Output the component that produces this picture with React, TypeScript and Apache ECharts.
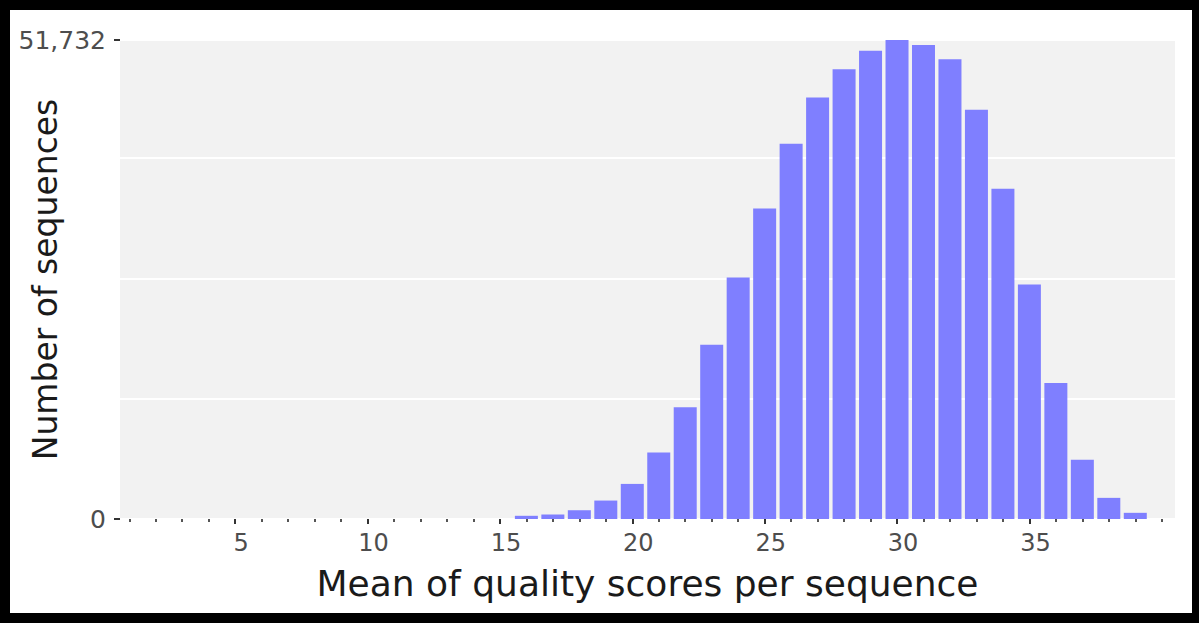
import React, { useEffect, useRef } from "react";
import * as echarts from "echarts";

// Histogram data: mean quality score (x) -> number of sequences (y)
const qualityScores = [16, 17, 18, 19, 20, 21, 22, 23, 24, 25, 26, 27, 28, 29, 30, 31, 32, 33, 34, 35, 36, 37, 38, 39];
const sequenceCounts = [345, 485, 947, 1992, 3790, 7192, 12080, 18819, 26075, 33536, 40534, 45519, 48576, 50579, 51732, 51192, 49653, 44195, 35657, 25322, 14696, 6406, 2282, 667];

const xMinorTicks = [1, 2, 3, 4, 5, 6, 7, 8, 9, 10, 11, 12, 13, 14, 15, 16, 17, 18, 19, 20, 21, 22, 23, 24, 25, 26, 27, 28, 29, 30, 31, 32, 33, 34, 35, 36, 37, 38, 39, 40];
const xMajorTicks = [5, 10, 15, 20, 25, 30, 35];
const yMax = 51732;
const yTickLabels = [0, 51732];

const FONT = "DejaVu Sans";

export default function App() {
  const ref = useRef<HTMLDivElement>(null);

  useEffect(() => {
    if (!ref.current) return;
    const chart = echarts.init(ref.current, null, { renderer: "svg" });
    chart.setOption({
      animation: false,
      backgroundColor: "#ffffff",
      grid: {
        left: 120,
        top: 40,
        right: 24,
        bottom: 104,
        show: true,
        backgroundColor: "#f2f2f2",
        borderWidth: 0,
        containLabel: false,
        outerBoundsMode: "none",
      },
      xAxis: [
        {
          type: "value",
          min: 0.65,
          max: 40.5,
          name: "Mean of quality scores per sequence",
          nameLocation: "middle",
          nameGap: 46,
          nameMoveOverlap: false,
          nameTextStyle: { fontFamily: FONT, fontSize: 36, color: "#1a1a1a" },
          axisLine: { show: false },
          splitLine: { show: false },
          axisTick: {
            show: true,
            customValues: xMinorTicks,
            length: 3,
            lineStyle: { color: "#555", width: 2 },
          },
          axisLabel: {
            show: true,
            customValues: xMajorTicks,
            fontFamily: FONT,
            fontSize: 24,
            color: "#4d4d4d",
            margin: 12,
            padding: [0, 0, 0, 12],
          },
        },
        {
          type: "value",
          min: 0.65,
          max: 40.5,
          position: "bottom",
          axisLine: { show: false },
          splitLine: { show: false },
          axisLabel: { show: false },
          axisTick: {
            show: true,
            customValues: xMajorTicks,
            length: 5,
            lineStyle: { color: "#333", width: 2 },
          },
        },
      ],
      yAxis: [
        {
          type: "value",
          min: 0,
          max: yMax,
          interval: 13000,
          axisLine: { show: false },
          axisTick: { show: false },
          axisLabel: { show: false },
          splitLine: { show: true, lineStyle: { color: "#ffffff", width: 2 } },
        },
        {
          type: "value",
          min: 0,
          max: yMax,
          position: "left",
          name: "Number of sequences",
          nameLocation: "middle",
          nameGap: 58,
          nameMoveOverlap: false,
          nameTextStyle: { fontFamily: FONT, fontSize: 33, color: "#1a1a1a" },
          axisLine: { show: false },
          splitLine: { show: false },
          axisTick: {
            show: true,
            customValues: yTickLabels,
            length: 6,
            lineStyle: { color: "#333", width: 2 },
          },
          axisLabel: {
            show: true,
            customValues: yTickLabels,
            fontFamily: FONT,
            fontSize: 25,
            color: "#4d4d4d",
            margin: 14,
            formatter: (v: number) => v.toLocaleString("en-US"),
          },
        },
      ],
      series: [
        {
          type: "bar",
          xAxisIndex: 0,
          yAxisIndex: 0,
          barWidth: 23,
          data: qualityScores.map((q, i) => [q, sequenceCounts[i]]),
          itemStyle: { color: "#7f7fff" },
        },
      ],
    });
    return () => chart.dispose();
  }, []);

  return (
    <div style={{ position: "fixed", left: 0, top: 0, width: 1199, height: 623 }}>
      <div ref={ref} style={{ position: "absolute", left: 0, top: 0, width: 1199, height: 623 }} />
      <div
        style={{
          position: "absolute",
          left: 0,
          top: 0,
          width: 1199,
          height: 623,
          boxSizing: "border-box",
          borderStyle: "solid",
          borderColor: "#000",
          borderTopWidth: 10,
          borderLeftWidth: 10,
          borderRightWidth: 7,
          borderBottomWidth: 10,
          pointerEvents: "none",
        }}
      />
    </div>
  );
}
